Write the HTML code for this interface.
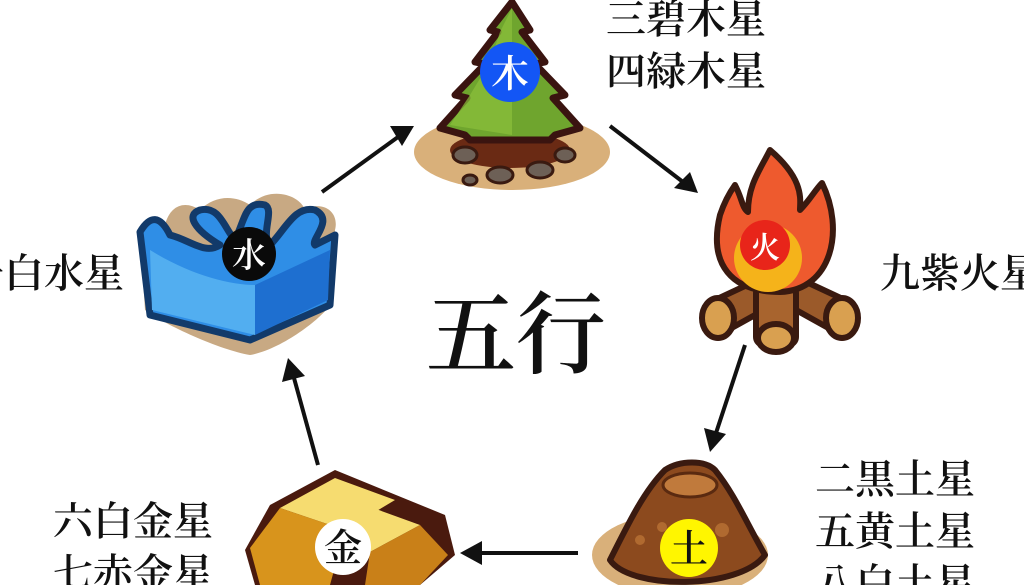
<!DOCTYPE html>
<html><head><meta charset="utf-8"><style>
html,body{margin:0;padding:0;background:#fff;}
svg{display:block;}
text{font-family:"Liberation Serif","Noto Serif CJK JP","Noto Serif CJK SC",serif;fill:#111;font-weight:600;}
</style></head><body>
<svg width="1024" height="585" viewBox="0 0 1024 585" xmlns="http://www.w3.org/2000/svg">
<rect width="1024" height="585" fill="#fff"/>

<!-- Tree -->
<ellipse cx="512" cy="152" rx="98" ry="38" fill="#d9b07a"/>
<ellipse cx="510" cy="150" rx="60" ry="18" fill="#6a2a14"/>
<g fill="#6d6056" stroke="#3a1a10" stroke-width="3">
<ellipse cx="465" cy="155" rx="12" ry="8"/><ellipse cx="500" cy="175" rx="13" ry="8"/>
<ellipse cx="540" cy="170" rx="13" ry="8"/><ellipse cx="565" cy="155" rx="10" ry="7"/>
<ellipse cx="470" cy="180" rx="7" ry="5"/>
</g>
<path d="M512 2 L530 30 L522 32 L545 62 L535 64 L565 95 L553 98 L580 128 L555 135 L550 140 L470 140 L465 135 L440 128 L467 98 L455 95 L485 64 L475 62 L498 32 L490 30 Z" fill="#6fa52e" stroke="#3a1410" stroke-width="7" stroke-linejoin="round"/>
<path d="M512 8 L500 32 L490 62 L470 95 L450 125 L512 135 Z" fill="#8cc13c" opacity="0.7"/>
<circle cx="510" cy="72" r="30" fill="#1356f5"/>
<text x="510" y="87" font-size="38" text-anchor="middle" style="fill:#fff">木</text>

<!-- Fire -->
<g stroke="#3a1a10" stroke-width="6" stroke-linejoin="round">
<path d="M715 300 L790 265 L800 290 L728 330 Z" fill="#9b5a2a"/>
<path d="M845 300 L770 265 L760 290 L832 330 Z" fill="#9b5a2a"/>
<rect x="756" y="285" width="40" height="60" rx="8" fill="#a8642e"/>
<ellipse cx="718" cy="318" rx="16" ry="20" fill="#d9a050"/>
<ellipse cx="842" cy="318" rx="16" ry="20" fill="#d9a050"/>
<ellipse cx="776" cy="338" rx="18" ry="14" fill="#d9a050"/>
<path d="M770 150 C805 180 800 200 800 210 C810 200 815 190 822 183 C845 230 832 290 780 292 C732 292 708 265 720 215 C725 200 730 192 735 185 C742 198 742 208 748 212 C748 185 760 170 770 150 Z" fill="#ee5a2e"/>
</g>
<ellipse cx="768" cy="258" rx="34" ry="34" fill="#f5b31a"/>
<circle cx="765" cy="245" r="25" fill="#e8251a"/>
<text x="765" y="258" font-size="30" text-anchor="middle" style="fill:#fff">火</text>

<!-- Earth mound -->
<ellipse cx="680" cy="555" rx="88" ry="42" fill="#d9b07a"/>
<path d="M610 560 C630 520 645 490 665 470 C680 460 705 460 715 470 C735 495 745 520 765 555 C740 590 630 590 610 560 Z" fill="#8c4a1e" stroke="#3a1a10" stroke-width="6" stroke-linejoin="round"/>
<ellipse cx="690" cy="485" rx="27" ry="12" fill="#c07a3c" stroke="#5a2a10" stroke-width="3"/>
<g fill="#b06a30"><circle cx="640" cy="540" r="5"/><circle cx="722" cy="530" r="7"/><circle cx="662" cy="527" r="5"/></g>
<circle cx="689" cy="548" r="29" fill="#fff600"/>
<text x="689" y="562" font-size="38" text-anchor="middle">土</text>

<!-- Gold bars -->
<path d="M270 505 L335 470 L445 515 L455 555 L420 585 L255 585 L245 550 Z" fill="#4a1a0e"/>
<path d="M280 508 L335 478 L395 500 L345 530 Z" fill="#f6dc70"/>
<path d="M310 535 L365 505 L420 525 L370 552 Z" fill="#f6dc70"/>
<path d="M250 548 L280 508 L345 530 L330 585 L260 585 Z" fill="#d8941c"/>
<path d="M370 552 L420 525 L448 555 L420 585 L365 585 Z" fill="#c98018"/>
<circle cx="343" cy="547" r="28" fill="#fff"/>
<text x="343" y="561" font-size="38" text-anchor="middle">金</text>

<!-- Water -->
<path d="M140 235 L165 225 C170 205 185 200 200 210 C215 195 235 195 250 205 C270 185 300 195 305 210 C320 200 340 210 335 230 L330 305 C320 320 280 350 250 355 C220 350 165 325 145 310 Z" fill="#c8a983"/>
<path d="M140 232 C150 215 160 215 170 235 C190 240 205 255 220 245 C195 230 185 215 200 210 C220 205 225 230 235 240 C245 220 245 200 265 205 C275 210 260 235 270 245 C285 230 295 205 315 210 C335 220 310 240 315 245 L335 235 L330 305 L250 340 L150 315 Z" fill="#2f8ee6" stroke="#123a6a" stroke-width="7" stroke-linejoin="round"/>
<path d="M150 250 C190 275 230 285 255 285 L255 335 L152 310 Z" fill="#52aef0"/>
<path d="M255 285 L330 250 L328 300 L255 335 Z" fill="#1e6fd0"/>
<circle cx="249" cy="254" r="27" fill="#0a0a0a"/>
<text x="249" y="267" font-size="34" text-anchor="middle" style="fill:#fff">水</text>

<!-- Arrows -->
<g stroke="#111" stroke-width="4" fill="#111">
<line x1="322" y1="192" x2="398" y2="137"/>
<line x1="610" y1="126" x2="683" y2="182"/>
<line x1="745" y1="345" x2="716" y2="433"/>
<line x1="578" y1="553" x2="480" y2="553"/>
<line x1="318" y1="465" x2="294" y2="378"/>
</g>
<g fill="#111">
<polygon points="414,126 390,126 402,146"/>
<polygon points="698,193 674,188 690,172"/>
<polygon points="710,452 704,428 726,434"/>
<polygon points="460,553 482,541 482,565"/>
<polygon points="288,358 282,382 305,376"/>
</g>

<!-- Text -->
<text x="516" y="366" font-size="90" text-anchor="middle">五行</text>
<text x="606" y="33" font-size="40">三碧木星</text>
<text x="606" y="85" font-size="40">四緑木星</text>
<text x="880" y="287" font-size="40">九紫火星</text>
<text x="124" y="287" font-size="40" text-anchor="end">一白水星</text>
<text x="815" y="493" font-size="40">二黒土星</text>
<text x="815" y="545" font-size="40">五黄土星</text>
<text x="815" y="597" font-size="40">八白土星</text>
<text x="53" y="535" font-size="40">六白金星</text>
<text x="53" y="587" font-size="40">七赤金星</text>
</svg>
</body></html>
